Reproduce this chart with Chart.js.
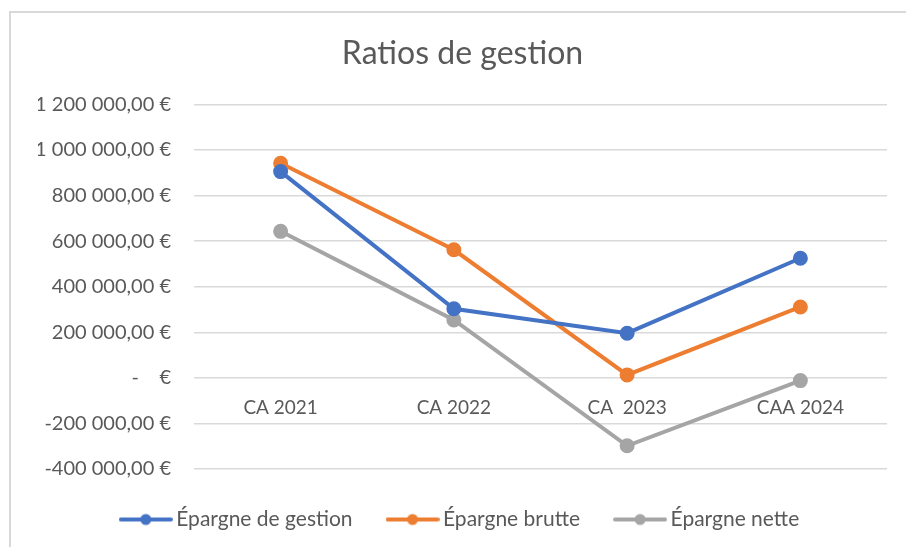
<!DOCTYPE html>
<html>
<head>
<meta charset="utf-8">
<script src="https://cdn.jsdelivr.net/npm/chart.js@4.4.1/dist/chart.umd.min.js"></script>
<style>
  html, body { margin: 0; padding: 0; background: #fff; }
  #wrap { position: relative; width: 906px; height: 547px; overflow: hidden; }
  #frame { position: absolute; left: 9px; top: 11px; right: -4px; bottom: -4px;
           border-top: 2px solid #d9d9d9; border-left: 2px solid #d9d9d9; }
  #wrap canvas { position: absolute; left: 0; top: 0; }
</style>
</head>
<body>
<div id="wrap">
  <div id="frame"></div>
  <canvas id="lineChart" width="906" height="547"></canvas>
</div>
<script>
var categories = ["CA 2021", "CA 2022", "CA  2023", "CAA 2024"];
var epargneGestion = [905000, 303000, 196000, 525000];
var epargneBrute = [942000, 562000, 13000, 311000];
var epargneNette = [643000, 254000, -298000, -12000];
var yTicks = [-400000, -200000, 0, 200000, 400000, 600000, 800000, 1000000, 1200000];

var FONT = "Lato, 'Noto Sans', sans-serif";
var GREY_TEXT = '#595959';

function euro(v) {
  if (v === 0) return '-    €';
  var neg = v < 0;
  var parts = Math.abs(v).toFixed(2).split('.');
  var intPart = parts[0].replace(/\B(?=(\d{3})+(?!\d))/g, ' ');
  return (neg ? '-' : '') + intPart + ',' + parts[1] + ' €';
}

// legend marker: line with a dot in the middle
function legendMarker(color) {
  var c = document.createElement('canvas');
  c.width = 54; c.height = 14;
  var g = c.getContext('2d');
  g.strokeStyle = color; g.lineWidth = 4; g.lineCap = 'round';
  g.beginPath(); g.moveTo(2, 7); g.lineTo(52, 7); g.stroke();
  g.fillStyle = color;
  g.beginPath(); g.arc(27, 7, 5.5, 0, Math.PI * 2); g.fill();
  return c;
}

var colors = ['#4472C4', '#ED7D31', '#A5A5A5'];
var markers = colors.map(legendMarker);

function ds(label, data, color) {
  return {
    label: label, data: data,
    borderColor: color, backgroundColor: color,
    pointBackgroundColor: color, pointBorderColor: color,
    borderWidth: 4, pointRadius: 5.5, pointHoverRadius: 6,
    tension: 0
  };
}

var ctxL = document.getElementById("lineChart").getContext('2d');
var myLineChart = new Chart(ctxL, {
  type: 'line',
  data: {
    labels: categories,
    datasets: [
      ds("Épargne de gestion", epargneGestion, colors[0]),
      ds("Épargne brutte", epargneBrute, colors[1]),
      ds("Épargne nette", epargneNette, colors[2])
    ]
  },
  options: {
    responsive: false,
    animation: false,
    layout: { padding: { left: 38, right: 19, top: 0, bottom: 7 } },
    plugins: {
      title: {
        display: true, text: 'Ratios de gestion', color: GREY_TEXT,
        font: { family: FONT, size: 32, weight: 'normal' },
        padding: { top: 34, bottom: 32 }
      },
      legend: {
        position: 'bottom',
        labels: {
          color: GREY_TEXT,
          font: { family: FONT, size: 21 },
          usePointStyle: true,
          pointStyleWidth: 40,
          padding: 40,
          generateLabels: function (chart) {
            return chart.data.datasets.map(function (d, i) {
              return {
                text: d.label, datasetIndex: i, fontColor: GREY_TEXT,
                pointStyle: markers[i], lineWidth: 0,
                strokeStyle: 'transparent', fillStyle: 'transparent', hidden: false
              };
            });
          }
        }
      },
      tooltip: { enabled: false }
    },
    scales: {
      x: {
        position: { y: 0 },
        offset: true,
        grid: { display: false, drawTicks: false },
        border: { display: false },
        ticks: { color: GREY_TEXT, font: { family: FONT, size: 19 }, padding: 19, maxRotation: 0 }
      },
      y: {
        min: yTicks[0], max: yTicks[yTicks.length - 1],
        afterFit: function (scale) { scale.width = 156; },
        afterBuildTicks: function (scale) {
          scale.ticks = yTicks.map(function (v) { return { value: v }; });
        },
        grid: { color: '#d9d9d9', lineWidth: 1.5, drawTicks: false },
        border: { display: false },
        ticks: {
          color: GREY_TEXT, font: { family: FONT, size: 20 }, padding: 23,
          callback: function (v) { return euro(v); }
        }
      }
    }
  }
});
</script>
</body>
</html>
